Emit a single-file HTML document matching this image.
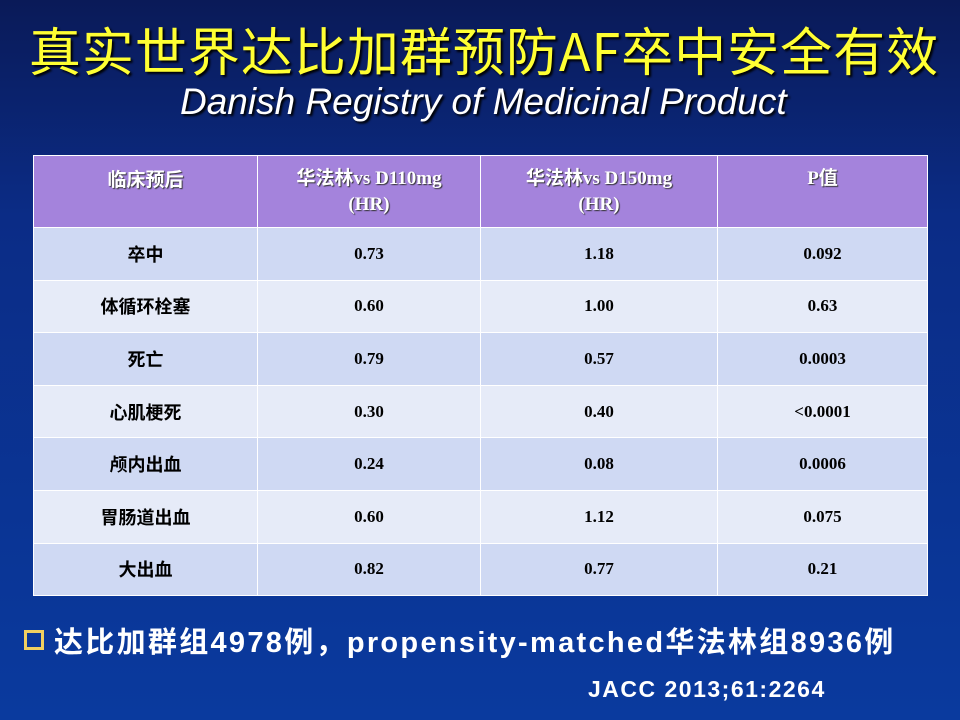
<!DOCTYPE html>
<html><head><meta charset="utf-8"><style>
body{margin:0;width:960px;height:720px;overflow:hidden;font-family:"Liberation Sans","Noto Sans CJK SC",sans-serif;
background:linear-gradient(180deg,#0a1a58 0%,#0b2c86 30%,#0a3a9e 100%);position:relative}
.t{position:absolute;left:0;width:960px;text-align:center;white-space:nowrap}
#title{top:16px;left:4px;font-size:52px;color:#ffff33;font-family:"Noto Sans CJK SC",sans-serif;text-shadow:2px 2px 2px #000;line-height:66px;letter-spacing:1px}
#sub{top:81px;left:180px;width:auto;font-size:37px;font-style:italic;color:#fff;text-shadow:2px 2px 2px #000}
table{position:absolute;left:33px;top:155px;border-collapse:collapse;width:894px;table-layout:fixed}
td{border:1px solid #fff;text-align:center;font-weight:bold;font-size:18px;height:51.6px;padding:0}
th{border:1px solid #fff;background:#a483dc;color:#fff;font-size:19px;height:61px;vertical-align:top;padding:10px 0 0 0;text-shadow:1px 1px 1px #333;font-family:"Liberation Serif","Noto Sans CJK SC",serif;line-height:26px}
td.n{font-family:"Liberation Serif",serif;font-size:17px}
tr:nth-child(odd) td{background:#cfd9f3}
tr:nth-child(even) td{background:#e6ebf8}
#note{position:absolute;left:24px;top:619px;font-size:29px;color:#fff;font-weight:bold;letter-spacing:2.3px;white-space:nowrap}
#note span.b{display:inline-block;width:14px;height:14px;border:3px solid #f0d060;margin-right:10px;vertical-align:2px}
#ref{position:absolute;left:588px;top:676px;font-size:23px;color:#fff;font-weight:bold;letter-spacing:1.5px;white-space:nowrap}
</style></head><body>
<div id="title" class="t">真实世界达比加群预防AF卒中安全有效</div>
<div id="sub" class="t">Danish Registry of Medicinal Product</div>
<table>
<colgroup><col style="width:224px"><col style="width:223px"><col style="width:237px"><col style="width:210px"></colgroup>
<thead><tr>
<th style="font-family:'Noto Sans CJK SC',sans-serif">临床预后</th>
<th>华法林vs D110mg<br>(HR)</th>
<th>华法林vs D150mg<br>(HR)</th>
<th>P值</th></tr></thead>
<tbody>
<tr><td>卒中</td><td class="n">0.73</td><td class="n">1.18</td><td class="n">0.092</td></tr>
<tr><td>体循环栓塞</td><td class="n">0.60</td><td class="n">1.00</td><td class="n">0.63</td></tr>
<tr><td>死亡</td><td class="n">0.79</td><td class="n">0.57</td><td class="n">0.0003</td></tr>
<tr><td>心肌梗死</td><td class="n">0.30</td><td class="n">0.40</td><td class="n">&lt;0.0001</td></tr>
<tr><td>颅内出血</td><td class="n">0.24</td><td class="n">0.08</td><td class="n">0.0006</td></tr>
<tr><td>胃肠道出血</td><td class="n">0.60</td><td class="n">1.12</td><td class="n">0.075</td></tr>
<tr><td>大出血</td><td class="n">0.82</td><td class="n">0.77</td><td class="n">0.21</td></tr>
</tbody></table>
<div id="note"><span class="b"></span>达比加群组4978例，propensity-matched华法林组8936例</div>
<div id="ref">JACC 2013;61:2264</div>
</body></html>
